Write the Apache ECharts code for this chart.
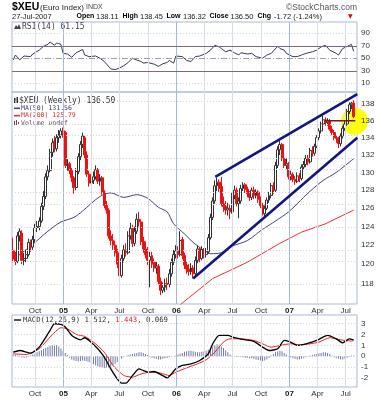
<!DOCTYPE html>
<html><head><meta charset="utf-8">
<script src="https://cdn.jsdelivr.net/npm/echarts@6/dist/echarts.min.js"></script>
<style>html,body{margin:0;padding:0;background:#fff}#c{width:385px;height:400px}</style>
</head><body><div id="c"></div>
<script>
// ---- weekly data (first week ending 2004-07-23) ----
const firstWeek = '2004-07-23';
const opens = [121.4,120.6,120.3,123.0,123.3,120.4,120.6,121.0,122.3,121.8,
122.6,123.9,124.0,124.6,126.2,127.3,129.5,130.2,132.3,133.6,
132.7,134.0,134.3,134.8,134.6,130.8,131.0,130.2,129.4,128.3,
130.1,131.8,133.2,134.0,132.0,129.8,128.8,129.1,129.5,130.3,
129.0,129.4,127.8,126.3,125.8,123.0,122.5,122.0,121.2,120.0,
118.8,120.6,121.5,121.2,123.0,123.8,122.2,123.5,124.8,124.5,
122.4,121.6,121.0,120.4,120.9,120.2,119.6,119.8,118.2,117.3,
117.6,118.0,117.9,119.0,120.2,121.0,121.4,121.0,122.6,120.9,
119.9,119.5,119.2,119.6,119.0,120.4,121.6,120.6,121.5,121.0,
121.3,122.8,125.0,126.8,128.5,128.9,128.4,126.5,126.2,125.8,
126.0,125.6,127.4,128.0,126.5,126.8,128.2,128.6,128.1,127.6,
127.2,128.0,127.4,127.8,127.0,126.3,125.4,126.0,126.9,127.4,
128.5,128.0,130.8,132.6,133.2,131.6,130.8,131.0,129.5,129.8,
129.2,129.0,129.6,129.3,130.6,130.9,131.6,131.2,132.5,132.2,
133.0,134.0,134.8,135.6,136.1,135.8,136.0,135.0,134.6,134.0,
133.9,133.3,134.2,135.1,135.6,137.1,137.9,138.11];
const highs = [122.8,121.3,123.4,123.8,123.6,121.2,121.5,122.7,122.6,123.0,
124.3,124.6,125.0,126.6,127.9,129.9,130.8,132.7,133.9,134.2,
134.4,134.9,135.1,135.2,134.8,131.5,131.2,130.5,129.6,130.5,
132.2,133.6,134.6,134.3,132.4,130.2,129.6,130.1,130.8,130.5,
129.8,129.6,128.0,126.8,126.0,123.6,123.2,122.5,121.6,120.3,
121.0,122.0,122.2,123.5,124.4,124.2,124.0,125.4,125.6,124.8,
122.9,122.4,121.8,121.3,121.3,120.6,120.3,120.0,118.6,118.1,
118.5,118.6,119.5,120.6,121.5,122.0,121.9,123.5,122.9,121.2,
120.3,120.0,120.1,119.9,120.8,122.0,121.8,121.9,121.7,121.7,
123.2,125.4,127.2,129.1,129.4,129.2,129.5,127.3,126.8,126.6,
126.4,127.8,128.5,128.3,127.2,128.6,128.9,128.8,128.4,127.9,
128.3,128.4,128.1,128.0,127.3,126.6,126.3,127.2,127.8,128.8,
128.9,131.2,133.0,133.7,133.4,132.0,131.6,131.2,130.2,130.0,
129.6,130.0,129.9,130.9,131.3,132.0,132.0,132.8,133.0,133.3,
134.3,135.1,135.9,136.6,136.4,136.3,136.2,135.4,134.9,134.3,
134.1,134.5,135.4,136.0,137.4,138.2,138.3,138.45];
const lows = [120.2,119.9,120.1,122.4,120.0,119.9,120.2,120.8,121.3,121.5,
122.3,123.4,123.6,124.4,125.8,127.0,129.1,130.0,131.8,132.3,
132.4,133.4,133.9,134.0,130.5,130.2,129.8,128.9,127.6,128.0,
129.8,131.4,132.8,131.6,129.5,128.4,128.3,128.7,129.2,128.7,
128.5,127.5,126.0,125.4,122.7,122.0,121.5,120.8,119.6,118.0,
118.6,120.2,120.8,121.0,122.6,121.8,121.9,123.2,124.0,122.0,
121.2,120.6,119.9,117.6,119.6,119.2,119.0,117.9,116.8,117.0,
117.1,117.3,117.6,118.7,119.9,120.6,120.6,120.8,120.5,119.5,
119.0,118.8,118.9,118.5,118.8,120.1,120.2,120.4,120.6,120.7,
121.1,122.6,124.7,126.5,127.9,127.8,126.2,125.6,125.3,125.2,
124.8,125.4,127.0,126.2,124.9,126.5,127.9,127.7,127.2,126.8,
126.9,127.0,127.1,126.6,126.0,125.2,125.1,125.8,126.6,127.1,
127.6,127.8,130.5,132.0,131.3,130.5,130.4,129.2,129.1,128.9,
128.6,128.8,128.9,129.1,130.3,130.6,130.8,131.0,131.8,131.9,
132.8,133.7,134.5,135.3,135.4,135.4,134.8,134.3,133.7,133.4,
132.8,133.0,133.9,134.8,135.4,136.8,137.4,136.32];
const closes = [120.6,120.3,123.0,123.5,120.4,120.6,121.0,122.3,121.8,122.6,
123.9,124.0,124.6,126.2,127.3,129.5,130.2,132.3,133.4,132.7,
134.0,134.3,134.8,134.6,130.8,130.9,130.2,129.4,128.3,130.1,
131.8,133.2,134.2,132.0,129.8,128.8,129.1,129.5,130.3,129.0,
129.4,127.8,126.3,125.8,123.0,122.5,122.0,121.2,120.0,118.8,
120.6,121.5,121.2,123.0,123.8,122.2,123.5,124.8,124.5,122.4,
121.6,121.0,120.4,120.8,120.0,119.6,119.8,118.2,117.3,117.6,
118.0,117.9,119.0,120.2,121.0,121.4,121.0,122.5,120.9,119.9,
119.5,119.2,119.6,119.0,120.4,121.6,120.6,121.5,121.0,121.3,
122.8,125.0,126.8,128.5,128.9,128.2,126.5,126.2,125.8,126.0,
125.6,127.4,128.0,126.5,126.8,128.2,128.6,128.1,127.6,127.2,
128.0,127.4,127.8,127.0,126.3,125.4,126.0,126.9,127.4,128.5,
128.0,130.8,132.6,133.2,131.6,130.8,131.0,129.5,129.8,129.2,
129.0,129.6,129.3,130.6,130.9,131.6,131.2,132.5,132.2,133.0,
134.0,134.8,135.6,136.1,135.8,136.0,135.0,134.6,134.0,133.9,
133.3,134.2,135.1,135.6,137.1,137.9,138.1,136.5];

// moving averages (read at sample weeks)
const ma50Weeks = [0,8,16,22,28,32,40,45,51,57,62,67,71,74,79,83,87,91,96,101,108,115,121,127,131,137,143,149,157];
const ma50Vals  = [120.5,121.9,123.5,124.5,125.0,125.7,127.3,127.7,127.2,127.5,127.1,126.1,125.6,124.3,123.2,122.3,121.6,121.1,121.2,121.9,122.5,123.7,124.6,125.6,126.5,127.9,129.1,130.0,131.56];
const ma200Weeks = [75,78,92,108,123,133,144,157];
const ma200Vals  = [115.4,116.0,118.5,120.2,122.2,123.4,124.3,125.79];

// annotations
const upperTrendWeeks = [93.2,158.7], upperTrendVals = [129.5,139.2];
const lowerTrendWeeks = [83.0,158.7], lowerTrendVals = [118.5,134.0];
const resistWeeks = [143.9,157.8], resistVals = [136.0,136.0];
const markerWeek = 157.4, markerVal = 135.95;

// RSI(14)
const rsiWeeks = [0,1,3,5,8,9,12,14,16,17,19,20,21,22,23,25,27,29,32,33,35,38,40,42,45,47,49,51,53,55,56,59,60,62,65,67,69,71,72,74,75,78,80,82,84,86,89,91,93,95,96,98,100,102,104,105,108,110,112,115,117,119,122,123,125,126,129,131,133,135,138,140,142,144,146,149,150,152,155,156,157];
const rsiVals  = [47.4,55.2,47.4,53.6,52.6,56.8,63.0,69.2,72.3,76.0,70.8,74.4,73.4,72.3,57.8,56.8,51.6,58.8,64.0,55.2,52.6,53.6,50.0,44.8,32.9,31.8,34.4,38.1,43.2,50.0,48.4,44.8,42.2,43.2,40.6,37.0,41.2,43.2,46.4,42.2,53.6,52.6,46.4,44.8,52.6,53.6,57.8,63.0,70.8,68.2,65.6,60.4,63.0,58.8,55.2,58.8,56.8,57.8,52.6,50.0,55.2,57.8,69.2,65.6,63.0,57.8,52.6,52.6,55.2,57.8,60.4,63.0,68.2,70.8,63.0,57.8,55.2,65.6,70.5,72.3,61.15];

// MACD(12,26,9)
const macdWeeks = [0,3,8,12,17,19,22,24,27,31,33,35,39,42,45,48,50,52,55,58,60,62,65,69,71,73,75,78,82,86,90,92,95,99,102,106,111,115,118,122,125,128,131,135,140,145,149,152,155,157];
const macdVals  = [0.37,0.52,0.28,0.83,2.38,2.99,2.93,2.69,1.91,1.51,1.70,1.45,0.68,-0.09,-1.17,-2.10,-2.50,-2.50,-1.80,-1.17,-1.33,-1.48,-1.42,-1.80,-2.01,-1.64,-1.17,-0.86,-0.71,-0.40,0.22,1.14,1.91,1.91,1.70,1.54,1.36,0.83,0.52,0.68,1.45,1.30,0.99,1.14,1.45,1.91,1.60,1.23,1.60,1.512];
const signalWeeks = [0,6,12,17,22,25,29,33,37,42,46,51,55,59,63,68,72,75,80,85,89,93,97,100,105,111,115,119,123,128,132,137,141,146,151,156,157];
const signalVals  = [0.22,0.15,0.68,1.76,2.62,2.53,2.01,1.82,1.30,0.37,-0.86,-1.79,-1.94,-1.64,-1.48,-1.57,-1.79,-1.48,-1.08,-0.71,-0.34,0.37,1.30,1.60,1.60,1.45,1.14,0.83,0.99,1.14,1.05,1.14,1.30,1.70,1.51,1.39,1.443];
const histVals = [0.15,0.12,0.05,-0.05,-0.12,-0.15,-0.12,-0.05,
0.05,0.15,0.25,0.35,0.45,0.55,0.65,0.75,0.85,0.95,1.0,1.05,1.0,0.9,0.7,0.5,
0.3,0.1,-0.15,-0.3,-0.4,-0.45,-0.5,-0.45,-0.4,-0.45,-0.5,-0.55,-0.65,-0.75,-0.85,-0.95,-1.0,-1.05,-1.1,-1.05,-1.0,-0.95,-0.85,-0.7,-0.55,-0.4,-0.25,
-0.1,0.0,0.1,0.15,0.2,0.25,
0.3,0.35,0.35,0.3,0.2,0.1,
-0.05,-0.15,-0.2,-0.25,-0.3,-0.3,-0.25,-0.2,-0.15,-0.1,-0.05,
0.0,0.05,0.15,0.25,
0.3,0.4,0.45,0.5,0.5,0.45,0.4,0.35,0.35,0.4,0.45,0.5,
0.6,0.75,0.9,1.0,1.1,1.05,0.9,0.75,0.55,0.35,0.15,
0.05,0.0,-0.05,-0.05,-0.1,-0.1,-0.15,-0.15,-0.2,-0.2,-0.25,-0.3,-0.35,-0.4,-0.45,-0.4,-0.3,-0.15,
0.05,0.2,0.35,0.45,0.5,0.45,0.3,0.15,
0.0,-0.1,-0.2,-0.25,-0.3,-0.3,-0.25,-0.2,-0.1,-0.05,
0.05,0.1,0.15,0.2,0.25,0.3,0.35,0.35,0.3,0.2,0.05,
-0.1,-0.2,-0.25,-0.3,-0.3,-0.25,-0.15,-0.05,
0.05,0.069];

// axes
const xStart = '2004-07-19', xEnd = '2007-08-07';
const xTickDates = ['2004-10-01','2005-01-01','2005-04-01','2005-07-01','2005-10-01','2006-01-01','2006-04-01','2006-07-01','2006-10-01','2007-01-01','2007-04-01','2007-07-01'];
const xTickLabels = ['Oct','05','Apr','Jul','Oct','06','Apr','Jul','Oct','07','Apr','Jul'];
const priceTicks = [118,120,122,124,126,128,130,132,134,136,138];
const rsiTicks = [10,30,50,70,90];
const macdTicks = [-2,-1,0,1,2,3];

// ---- build ----
const DAY = 86400000;
const t0 = Date.parse(firstWeek);
const wk = w => t0 + w * 7 * DAY;
const xMin = Date.parse(xStart), xMax = Date.parse(xEnd);
const xTicks = xTickDates.map(d => Date.parse(d));
const isYear = xTickLabels.map(s => /^\d/.test(s));
const L = Math.log;

function xLabelFmt(v) {
  let k = 0, best = Infinity;
  xTicks.forEach((t, i) => { const d = Math.abs(t - v); if (d < best) { best = d; k = i; } });
  return isYear[k] ? '{b|' + xTickLabels[k] + '}' : xTickLabels[k];
}
function xAxisDef(gi, showLabels) {
  return {
    type: 'value', gridIndex: gi, min: xMin, max: xMax, scale: true,
    axisLine: {show: false}, axisTick: {show: false}, splitLine: {show: false},
    axisLabel: showLabels ? {
      customValues: xTicks, formatter: xLabelFmt, fontSize: 8, color: '#333',
      fontFamily: 'Liberation Sans', margin: 3, hideOverlap: false,
      rich: {b: {fontWeight: 'bold', fontSize: 8, color: '#222', fontFamily: 'Liberation Sans'}}
    } : {show: false}
  };
}
function gridSeries(gi, yDummy, hLines) {
  const data = [];
  xTicks.forEach((t, k) => data.push({xAxis: t, lineStyle: {color: isYear[k] ? '#a7b8d8' : '#dcdce6', width: 1, type: 'solid'}}));
  hLines.forEach(h => data.push({yAxis: h.v, lineStyle: h.s}));
  return {
    type: 'line', xAxisIndex: gi, yAxisIndex: gi, data: [[xMin, yDummy]], symbol: 'none',
    lineStyle: {opacity: 0}, silent: true, z: 1, animation: false,
    markLine: {silent: true, symbol: ['none', 'none'], label: {show: false}, animation: false, data: data}
  };
}
const dotted = {color: '#d4d4dc', width: 1, type: [1, 2]};

const candleData = closes.map((c, i) => [wk(i), L(opens[i]), L(c), L(lows[i]), L(highs[i])]);
const pairs = (ws, vs, f) => ws.map((w, k) => [wk(w), f ? f(vs[k]) : vs[k]]);

const monoFont = '"DejaVu Sans Mono"';
const hdr = (x, text, bold) => ({type: 'text', x: x, y: 16.5, style: {text: text,
  font: bold ? 'bold 7px "Liberation Sans"' : '7.5px "Liberation Sans"', fill: bold ? '#000' : '#222', verticalAlign: 'middle'}});
const option = {
  animation: false,
  backgroundColor: '#fff',
  grid: [
    {left: 12, top: 22, width: 345, height: 70, show: true, borderColor: '#a9b9d6', borderWidth: 1, backgroundColor: 'transparent'},
    {left: 12, top: 92, width: 345, height: 212, show: true, borderColor: '#a9b9d6', borderWidth: 1, backgroundColor: 'transparent'},
    {left: 12, top: 315, width: 345, height: 72, show: true, borderColor: '#a9b9d6', borderWidth: 1, backgroundColor: 'transparent'}
  ],
  xAxis: [xAxisDef(0, false), xAxisDef(1, true), xAxisDef(2, true)],
  yAxis: [
    {type: 'value', gridIndex: 0, min: -4, max: 108, position: 'right', z: 5,
     axisLine: {show: false}, axisTick: {show: false}, splitLine: {show: false},
     axisLabel: {customValues: rsiTicks, fontSize: 8, color: '#333', fontFamily: 'Liberation Sans', margin: 4}},
    {type: 'value', gridIndex: 1, min: L(115.9), max: L(139.45), position: 'right', z: 5, scale: true,
     axisLine: {show: false}, axisTick: {show: false}, splitLine: {show: false},
     axisLabel: {customValues: priceTicks.map(L), formatter: v => String(Math.round(Math.exp(v))), fontSize: 8, color: '#333', fontFamily: 'Liberation Sans', margin: 4}},
    {type: 'value', gridIndex: 2, min: -2.85, max: 3.8, position: 'right', z: 5,
     axisLine: {show: false}, axisTick: {show: false}, splitLine: {show: false},
     axisLabel: {customValues: macdTicks, fontSize: 8, color: '#333', fontFamily: 'Liberation Sans', margin: 4}}
  ],
  series: [
    gridSeries(0, 50, [
      {v: 90, s: dotted}, {v: 10, s: dotted},
      {v: 70, s: {color: '#7d6a7d', width: 1, type: 'solid'}},
      {v: 30, s: {color: '#7d6a7d', width: 1, type: 'solid'}},
      {v: 50, s: {color: '#a0a0a8', width: 1, type: [6, 2, 1, 2]}}
    ]),
    {type: 'line', name: 'RSI', xAxisIndex: 0, yAxisIndex: 0, data: pairs(rsiWeeks, rsiVals), symbol: 'none',
     lineStyle: {color: '#3a3a58', width: 1}, z: 3},

    gridSeries(1, L(128), priceTicks.map(p => ({v: L(p), s: dotted}))),
    {type: 'scatter', xAxisIndex: 1, yAxisIndex: 1, data: [[wk(markerWeek), L(markerVal)]], symbolSize: 27,
     itemStyle: {color: '#ffff00', opacity: 0.95}, clip: false, z: 2, silent: true},
    {type: 'line', name: 'MA(200)', xAxisIndex: 1, yAxisIndex: 1, data: pairs(ma200Weeks, ma200Vals, L), symbol: 'none',
     lineStyle: {color: '#ee3030', width: 1}, z: 3, clip: true},
    {type: 'line', name: 'MA(50)', xAxisIndex: 1, yAxisIndex: 1, data: pairs(ma50Weeks, ma50Vals, L), symbol: 'none', smooth: 0.3,
     lineStyle: {color: '#45457e', width: 1}, z: 3},
    {type: 'candlestick', name: '$XEU', xAxisIndex: 1, yAxisIndex: 1, data: candleData, encode: {x: 0, y: [1, 2, 3, 4]},
     barWidth: 2.4, z: 4,
     itemStyle: {color: '#ffffff', color0: '#ee1111', borderColor: '#333333', borderColor0: '#ee1111', borderWidth: 1}},
    {type: 'line', xAxisIndex: 1, yAxisIndex: 1, data: pairs(upperTrendWeeks, upperTrendVals, L), symbol: 'none',
     lineStyle: {color: '#15157f', width: 2.6}, z: 6, clip: true},
    {type: 'line', xAxisIndex: 1, yAxisIndex: 1, data: pairs(lowerTrendWeeks, lowerTrendVals, L), symbol: 'none',
     lineStyle: {color: '#15157f', width: 2.6}, z: 6, clip: true},
    {type: 'line', xAxisIndex: 1, yAxisIndex: 1, data: pairs(resistWeeks, resistVals, L), symbol: 'none',
     lineStyle: {color: '#7a1010', width: 1.5}, z: 6},

    gridSeries(2, 0, macdTicks.map(v => ({v: v, s: dotted}))),
    {type: 'bar', name: 'hist', xAxisIndex: 2, yAxisIndex: 2, data: histVals.map((v, i) => [wk(i), v]), barWidth: 1,
     itemStyle: {color: '#6f7ba3'}, z: 2},
    {type: 'line', name: 'signal', xAxisIndex: 2, yAxisIndex: 2, data: pairs(signalWeeks, signalVals), symbol: 'none', smooth: 0.2,
     lineStyle: {color: '#ee2222', width: 1}, z: 3},
    {type: 'line', name: 'MACD', xAxisIndex: 2, yAxisIndex: 2, data: pairs(macdWeeks, macdVals), symbol: 'none', smooth: 0.2,
     lineStyle: {color: '#000000', width: 1.3}, z: 4}
  ],
  graphic: [
    // header
    {type: 'text', x: 12, y: 7, style: {text: '$XEU', font: 'bold 10.5px "Liberation Sans"', fill: '#000', verticalAlign: 'middle'}},
    {type: 'text', x: 40, y: 7.5, style: {text: '(Euro Index)', font: '8px "Liberation Sans"', fill: '#222', verticalAlign: 'middle'}},
    {type: 'text', x: 86, y: 7.5, style: {text: 'INDX', font: '7px "Liberation Sans"', fill: '#444', verticalAlign: 'middle'}},
    {type: 'text', x: 357, y: 7.5, style: {text: '©StockCharts.com', font: '8.5px "Liberation Sans"', fill: '#555', align: 'right', verticalAlign: 'middle'}},
    {type: 'text', x: 12, y: 16.5, style: {text: '27-Jul-2007', font: '7.5px "Liberation Sans"', fill: '#222', verticalAlign: 'middle'}},
    hdr(76.5, 'Open', true), hdr(96, '138.11', false),
    hdr(122.5, 'High', true), hdr(140, '138.45', false),
    hdr(166.5, 'Low', true), hdr(183, '136.32', false),
    hdr(209.5, 'Close', true), hdr(230.5, '136.50', false),
    hdr(257.5, 'Chg', true), hdr(274, '-1.72 (-1.24%)', false),
    {type: 'text', x: 348, y: 16.5, style: {text: '▼', font: '6px "DejaVu Sans"', fill: '#e00000', verticalAlign: 'middle'}},
    // RSI legend
    {type: 'polygon', shape: {points: [[14, 29], [16, 25], [17.5, 27], [19, 24], [21, 29]]}, style: {fill: '#444'}},
    {type: 'text', x: 22, y: 26.5, style: {text: 'RSI(14) 61.15', font: '8px ' + monoFont, fill: '#444', verticalAlign: 'middle'}},
    // main legend
    {type: 'rect', shape: {x: 14, y: 98, width: 1.5, height: 5}, style: {fill: '#333'}},
    {type: 'rect', shape: {x: 16.5, y: 97, width: 1.5, height: 6}, style: {fill: '#333'}},
    {type: 'text', x: 19, y: 100.7, style: {text: '$XEU (Weekly) 136.50', font: '8px ' + monoFont, fill: '#333', verticalAlign: 'middle'}},
    {type: 'line', shape: {x1: 14, y1: 108.3, x2: 20, y2: 108.3}, style: {stroke: '#45457e', lineWidth: 1.6}},
    {type: 'text', x: 21, y: 108.3, style: {text: 'MA(50) 131.56', font: '6.5px ' + monoFont, fill: '#3c3c78', verticalAlign: 'middle'}},
    {type: 'line', shape: {x1: 14, y1: 115.7, x2: 20, y2: 115.7}, style: {stroke: '#ee3030', lineWidth: 1.6}},
    {type: 'text', x: 21, y: 115.7, style: {text: 'MA(200) 125.79', font: '6.5px ' + monoFont, fill: '#e03030', verticalAlign: 'middle'}},
    {type: 'rect', shape: {x: 14, y: 121, width: 1, height: 4}, style: {fill: '#556'}},
    {type: 'rect', shape: {x: 16, y: 120, width: 1, height: 5}, style: {fill: '#556'}},
    {type: 'rect', shape: {x: 18, y: 122, width: 1, height: 3}, style: {fill: '#556'}},
    {type: 'text', x: 21, y: 123, style: {text: 'Volume undef', font: '6.5px ' + monoFont, fill: '#555', verticalAlign: 'middle'}},
    // MACD legend
    {type: 'line', shape: {x1: 14, y1: 320, x2: 21, y2: 320}, style: {stroke: '#555', lineWidth: 2}},
    {type: 'text', x: 23, y: 320.3, style: {
      text: '{a|MACD(12,26,9) 1.512, }{r|1.443,}{a| 0.069}', verticalAlign: 'middle',
      rich: {a: {font: '7.3px ' + monoFont, fill: '#333'}, r: {font: '7.3px ' + monoFont, fill: '#e02020'}}
    }}
  ]
};
const chart = echarts.init(document.getElementById('c'), null, {renderer: 'canvas'});
chart.setOption(option);
</script>
</body></html>
